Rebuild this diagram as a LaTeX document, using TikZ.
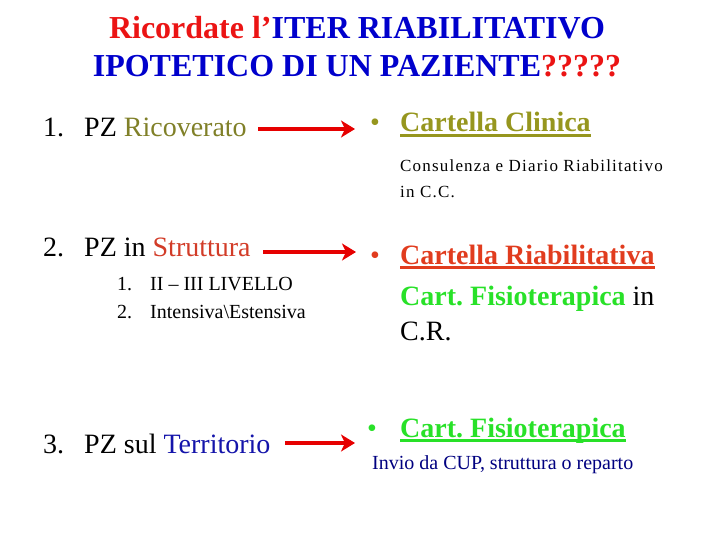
\documentclass[tikz,border=0pt]{standalone}
\usepackage{fontspec}
\setmainfont{Liberation Serif}
\usetikzlibrary{arrows.meta}
\definecolor{tred}{RGB}{235,20,20}
\definecolor{tblue}{RGB}{0,0,204}
\definecolor{oliveA}{RGB}{128,128,40}
\definecolor{oliveB}{RGB}{150,150,30}
\definecolor{struct}{RGB}{210,60,40}
\definecolor{redB}{RGB}{225,60,30}
\definecolor{greenB}{RGB}{40,225,40}
\definecolor{terr}{RGB}{20,20,170}
\definecolor{navyB}{RGB}{0,0,128}
\definecolor{arrred}{RGB}{230,0,0}
\newcommand\fsz[1]{\fontsize{#1}{#1}\selectfont}
\frenchspacing
\begin{document}
\begin{tikzpicture}[x=1pt,y=-1pt,
  txt/.style={inner sep=0pt, anchor=base west},
  big/.style={txt, font=\fsz{28}},
  small/.style={txt, font=\fsz{20}},
  ttl/.style={inner sep=0pt, anchor=base, font=\fsz{32}\bfseries},
  bul/.style={txt, font=\fsz{28}},
  ul/.style={line width=2.3pt},
  arr/.style={arrred, line width=4.5pt, -{Stealth[length=14pt,width=17pt,inset=4pt]}}]
\useasboundingbox (0,0) rectangle (720,540);
% title
\node[ttl] (t1) at (357,39) {\textcolor{tred}{Ricordate l’}\textcolor{tblue}{ITER RIABILITATIVO}};
\node[ttl] (t2) at (357,77) {\textcolor{tblue}{IPOTETICO DI UN PAZIENTE}\textcolor{tred}{?????}};
% left column
\node[big] (n1) at (43,137) {1.};
\node[big] (l1) at (84,137) {PZ \textcolor{oliveA}{Ricoverato}};
\node[big] (n2) at (43,256) {2.};
\node[big] (l2) at (84,256) {PZ in \textcolor{struct}{Struttura}};
\node[small] (s1n) at (117,290) {1.};
\node[small] (s1) at (150,290) {II – III LIVELLO};
\node[small] (s2n) at (117,318) {2.};
\node[small] (s2) at (150,318) {Intensiva\textbackslash Estensiva};
\node[big] (n3) at (43,453) {3.};
\node[big] (l3) at (84,453) {PZ sul \textcolor{terr}{Territorio}};
% right column
\node[bul, text=oliveB] (b1) at (370,132) {\textbullet};
\node[big, font=\fsz{28}\bfseries, text=oliveB] (r1) at (400,132) {Cartella Clinica};
\draw[ul, oliveB] ([yshift=-3.5pt]r1.base west) -- ([yshift=-3.5pt]r1.base east);
\node[txt, font=\fsz{17}\addfontfeature{LetterSpace=7}] (c1) at (400,172) {Consulenza e Diario Riabilitativo};
\node[txt, font=\fsz{17}\addfontfeature{LetterSpace=7}] (c2) at (400,198) {in C.C.};
\node[bul, text=redB] (b2) at (370,264) {\textbullet};
\node[big, font=\fsz{28}\bfseries, text=redB] (r2) at (400,264) {Cartella Riabilitativa};
\draw[ul, redB] ([yshift=-3.5pt]r2.base west) -- ([yshift=-3.5pt]r2.base east);
\node[big] (f2) at (400,305) {\textbf{\textcolor{greenB}{Cart. Fisioterapica}} in};
\node[big] (cr) at (400,340) {C.R.};
\node[bul, text=greenB] (b3) at (367,437) {\textbullet};
\node[big, font=\fsz{28}\bfseries, text=greenB] (r3) at (400,437) {Cart. Fisioterapica};
\draw[ul, greenB] ([yshift=-3.5pt]r3.base west) -- ([yshift=-3.5pt]r3.base east);
\node[small, text=navyB] (inv) at (372,469) {Invio da CUP, struttura o reparto};
% arrows
\coordinate (a1s) at (258,129); \coordinate (a1e) at (355,129);
\coordinate (a2s) at (263,252); \coordinate (a2e) at (356,252);
\coordinate (a3s) at (285,443); \coordinate (a3e) at (355,443);
\draw[arr] (a1s) -- (a1e);
\draw[arr] (a2s) -- (a2e);
\draw[arr] (a3s) -- (a3e);
\end{tikzpicture}
\end{document}
